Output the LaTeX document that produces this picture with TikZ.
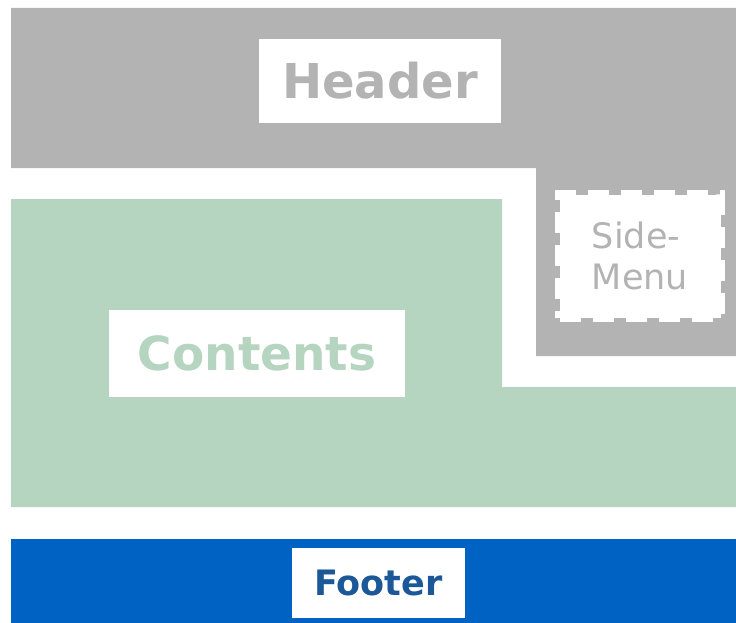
\documentclass[tikz,border=0pt]{standalone}
\usepackage{fontspec}
\setmainfont{DejaVu Sans}
\definecolor{hgray}{RGB}{179,179,179}
\definecolor{cgreen}{RGB}{181,213,192}
\definecolor{fblue}{RGB}{0,99,196}
\definecolor{ftext}{RGB}{28,88,152}
\begin{document}
\begin{tikzpicture}[x=1pt,y=-1pt,
  labelbox/.style={fill=white,draw=none,inner sep=0pt,align=center,font=\bfseries},
]
\useasboundingbox (0,0) rectangle (736,623);
% regions
\fill[hgray] (11,8) -- (736,8) -- (736,356) -- (536,356) -- (536,168) -- (11,168) -- cycle;
\fill[cgreen] (11,199) -- (502,199) -- (502,387) -- (736,387) -- (736,507) -- (11,507) -- cycle;
\fill[fblue] (11,539) rectangle (736,623);
% labels
\node[labelbox,minimum width=242pt,minimum height=84pt,text=hgray,font=\fontsize{48}{56}\selectfont\bfseries] (header) at (380,81) {Header};
\node[labelbox,minimum width=296pt,minimum height=87pt,text=cgreen,font=\fontsize{47}{55}\selectfont\bfseries] (contents) at (257,353.5) {Contents};
\node[labelbox,minimum width=173pt,minimum height=70pt,text=ftext,font=\fontsize{35}{40}\selectfont\bfseries] (footer) at (378.5,583) {Footer};
\node[fill=white,draw=white,line width=9pt,dash pattern=on 21pt off 12pt,
  minimum width=161pt,minimum height=123pt,inner sep=0pt,align=left,
  text=hgray,font=\fontsize{35}{41}\selectfont] (side) at (640,256) {Side-\\Menu};
\end{tikzpicture}
\end{document}
